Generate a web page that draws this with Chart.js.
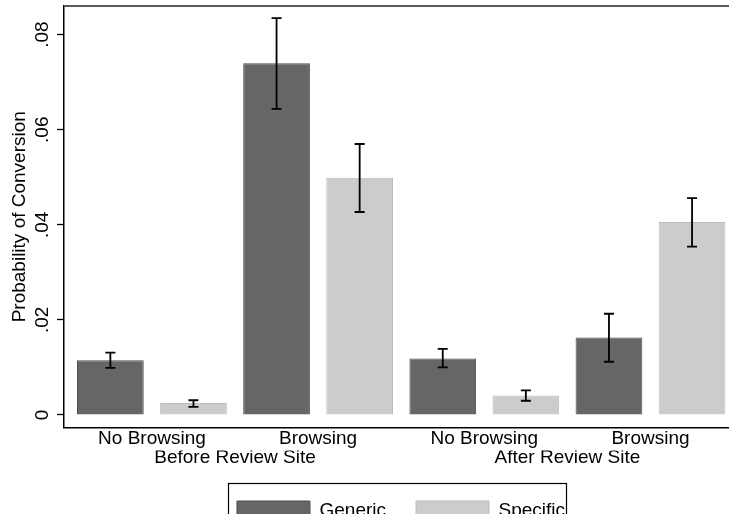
<!DOCTYPE html>
<html>
<head>
<meta charset="utf-8">
<script src="https://cdn.jsdelivr.net/npm/chart.js@4.4.1/dist/chart.umd.min.js"></script>
<style>
  html, body { margin: 0; padding: 0; background: #ffffff; overflow: hidden; }
  #wrap { position: relative; width: 738px; height: 530px; }
</style>
</head>
<body>
<div id="wrap"><canvas id="chart"></canvas></div>
<script>
// Conversion probability by browsing status, before / after the review site
const browsingLabels = ['No Browsing', 'Browsing', 'No Browsing', 'Browsing'];
const periodLabels = ['Before Review Site', 'After Review Site'];
const seriesNames = ['Generic', 'Specific'];

const genericMean = [0.0115, 0.0740, 0.0119, 0.0163];
const genericLow  = [0.0099, 0.0644, 0.0100, 0.0112];
const genericHigh = [0.0131, 0.0835, 0.0139, 0.0213];

const specificMean = [0.0025, 0.0499, 0.0041, 0.0406];
const specificLow  = [0.0017, 0.0427, 0.0030, 0.0354];
const specificHigh = [0.0031, 0.0570, 0.0052, 0.0456];

const yTickValues = [0, 0.02, 0.04, 0.06, 0.08];
const yTickLabels = ['0', '.02', '.04', '.06', '.08'];

// each browsing group occupies two units on the x axis; periods span two groups
const groupPos = browsingLabels.map((_, i) => 2 * i + 1);
const periodPos = periodLabels.map((_, k) => 4 * k + 2);

const FONT = "'Liberation Sans', Arial, Helvetica, sans-serif";
const intervals = [
  { low: genericLow, high: genericHigh },
  { low: specificLow, high: specificHigh }
];

const errorBars = {
  id: 'errorBars',
  afterDatasetsDraw(chart) {
    const ctx = chart.ctx;
    const y = chart.scales.y;
    ctx.save();
    ctx.strokeStyle = '#000000';
    intervals.forEach((iv, d) => {
      const meta = chart.getDatasetMeta(d);
      meta.data.forEach((bar, j) => {
        const yl = y.getPixelForValue(iv.low[j]);
        const yh = y.getPixelForValue(iv.high[j]);
        const cx = bar.x;
        ctx.lineWidth = 1.8;
        ctx.beginPath();
        ctx.moveTo(cx, yl); ctx.lineTo(cx, yh);
        ctx.moveTo(cx - 5, yl); ctx.lineTo(cx + 5, yl);
        ctx.moveTo(cx - 5, yh); ctx.lineTo(cx + 5, yh);
        ctx.stroke();
      });
    });
    ctx.restore();
  }
};

const frames = {
  id: 'frames',
  afterDraw(chart) {
    const ctx = chart.ctx;
    const a = chart.chartArea;
    ctx.save();
    // plot region top edge
    ctx.strokeStyle = '#5a5a5a';
    ctx.lineWidth = 2;
    ctx.beginPath();
    ctx.moveTo(a.left, a.top);
    ctx.lineTo(a.right + 2, a.top);
    ctx.stroke();
    // legend outline
    const hb = chart.legend.legendHitBoxes;
    if (hb && hb.length) {
      const first = hb[0], last = hb[hb.length - 1];
      const l = first.left - 8.5;
      const r = last.left + last.width + 1.5;
      const t = first.top - 18.5;
      const b = first.top + first.height + 18.5;
      ctx.strokeStyle = '#000000';
      ctx.lineWidth = 1.2;
      ctx.strokeRect(Math.round(l) + 0.5, Math.round(t) + 0.5, Math.round(r - l), Math.round(b - t));
    }
    ctx.restore();
  }
};

new Chart(document.getElementById('chart'), {
  type: 'bar',
  data: {
    datasets: [
      {
        label: seriesNames[0],
        data: genericMean.map((v, i) => ({ x: groupPos[i], y: v })),
        backgroundColor: '#666666',
        borderColor: '#4e4e4e',
        borderWidth: 1
      },
      {
        label: seriesNames[1],
        data: specificMean.map((v, i) => ({ x: groupPos[i], y: v })),
        backgroundColor: '#cccccc',
        borderColor: '#bcbcbc',
        borderWidth: 1
      }
    ]
  },
  options: {
    responsive: true,
    maintainAspectRatio: false,
    animation: false,
    devicePixelRatio: 1,
    categoryPercentage: 1,
    barPercentage: 0.803,
    layout: { padding: { top: 6, left: 0, right: 0, bottom: 0 }, autoPadding: false },
    plugins: {
      legend: {
        position: 'bottom',
        fullSize: false,
        labels: {
          boxWidth: 73,
          boxHeight: 19,
          padding: 30,
          color: '#000000',
          font: { family: FONT, size: 19, lineHeight: 1 }
        }
      },
      tooltip: { enabled: false }
    },
    scales: {
      x: {
        type: 'linear',
        position: 'bottom',
        weight: 0,
        offset: false,
        min: -0.058,
        max: 8.053,
        grid: { display: false, drawTicks: false, tickLength: 0 },
        border: { display: true, color: '#000000', width: 1.5 },
        afterBuildTicks(scale) { scale.ticks = groupPos.map(v => ({ value: v })); },
        afterFit(scale) { scale.height = 23; scale.paddingLeft = 0; scale.paddingRight = 0; },
        ticks: {
          autoSkip: false,
          maxRotation: 0,
          minRotation: 0,
          padding: 2,
          color: '#000000',
          font: { family: FONT, size: 19, lineHeight: 1 },
          callback: (v, i) => browsingLabels[i]
        }
      },
      period: {
        type: 'linear',
        axis: 'x',
        position: 'bottom',
        weight: 1,
        offset: false,
        min: -0.058,
        max: 8.053,
        grid: { display: false, drawTicks: false, tickLength: 0 },
        border: { display: false },
        afterBuildTicks(scale) { scale.ticks = periodPos.map(v => ({ value: v })); },
        afterFit(scale) { scale.height = 20.5; scale.paddingLeft = 0; scale.paddingRight = 0; },
        ticks: {
          autoSkip: false,
          maxRotation: 0,
          minRotation: 0,
          padding: -2,
          color: '#000000',
          font: { family: FONT, size: 19, lineHeight: 1 },
          callback: (v, i) => periodLabels[i]
        }
      },
      y: {
        type: 'linear',
        position: 'left',
        min: -0.00263,
        max: 0.08603,
        grid: {
          display: true,
          drawOnChartArea: false,
          drawTicks: true,
          tickLength: 7,
          tickColor: '#000000',
          tickWidth: 1.3
        },
        border: { display: true, color: '#000000', width: 1.5 },
        afterBuildTicks(scale) { scale.ticks = yTickValues.map(v => ({ value: v })); },
        afterFit(scale) { scale.width = 64; scale.paddingTop = 0; scale.paddingBottom = 0; },
        ticks: {
          minRotation: 90,
          maxRotation: 90,
          crossAlign: 'center',
          padding: 1,
          color: '#000000',
          font: { family: FONT, size: 19, lineHeight: 1 },
          callback: (v, i) => yTickLabels[i]
        },
        title: {
          display: true,
          text: 'Probability of Conversion',
          color: '#000000',
          padding: { top: 10.6, bottom: 0 },
          font: { family: FONT, size: 19, lineHeight: 1 }
        }
      }
    }
  },
  plugins: [errorBars, frames]
});
</script>
</body>
</html>
